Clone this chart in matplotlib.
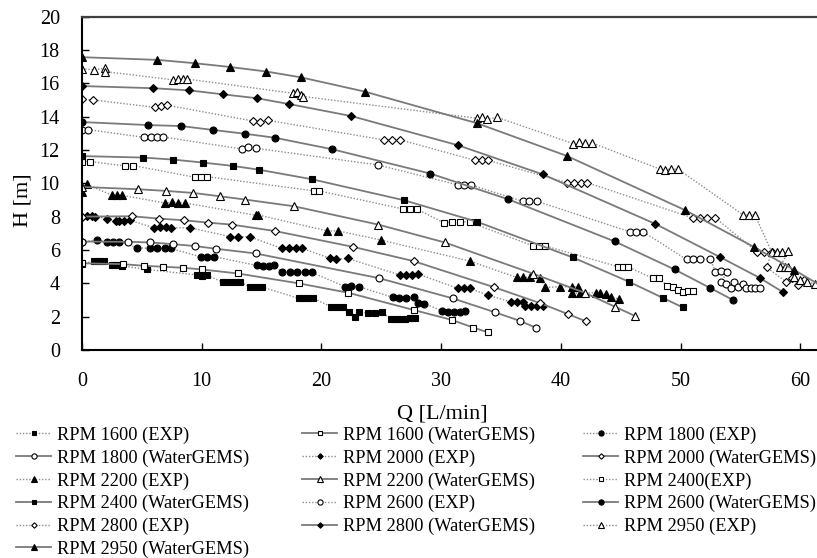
import matplotlib.pyplot as plt
from matplotlib.lines import Line2D

# pump head curves: measured points (EXP) and WaterGEMS model points
q_1600_exp = [0, 1.0, 1.4, 1.8, 2.5, 2.9, 3.3, 5.4, 9.6, 10.0, 10.4, 11.8, 12.3, 12.8, 13.2, 14.0, 14.5, 15.0,
              18.1, 18.5, 18.9, 19.3, 20.8, 21.3, 21.8, 22.3, 22.8, 23.1, 23.9, 24.5, 25.1, 25.8, 26.2, 26.6,
              27.0, 27.4, 27.8]
h_1600_exp = [5.15, 5.35, 5.35, 5.35, 5.1, 5.1, 5.05, 4.83, 4.5, 4.45, 4.5, 4.05, 4.05, 4.05, 4.1, 3.78, 3.75, 3.78,
              3.1, 3.1, 3.1, 3.1, 2.6, 2.6, 2.55, 2.3, 2.0, 2.3, 2.2, 2.2, 2.25, 1.84, 1.84, 1.86,
              1.88, 1.9, 1.92]
q_1600_wg = [0, 3.4, 5.15, 6.8, 8.45, 10.0, 13.0, 18.15, 22.25, 27.7, 30.9, 32.7, 33.9]
h_1600_wg = [5.2, 5.15, 5.05, 4.99, 4.93, 4.83, 4.59, 3.99, 3.43, 2.4, 1.8, 1.34, 1.06]

q_1800_exp = [0, 1.25, 2.1, 2.6, 3.1, 4.6, 5.7, 6.3, 6.9, 7.4, 9.9, 10.4, 11.0, 14.6, 15.1, 15.6, 16.0,
              16.7, 17.4, 18.0, 18.6, 19.2, 22.0, 22.5, 23.1, 26.0, 26.5, 27.1, 27.7, 28.1, 28.6,
              30.1, 30.6, 31.1, 31.6, 32.0]
h_1800_exp = [6.5, 6.59, 6.49, 6.49, 6.49, 6.13, 6.09, 6.09, 6.09, 6.09, 5.59, 5.6, 5.6, 5.07, 5.05, 5.05, 5.07,
              4.67, 4.65, 4.65, 4.67, 4.65, 3.79, 3.82, 3.8, 3.15, 3.12, 3.12, 3.15, 2.8, 2.78,
              2.35, 2.25, 2.3, 2.25, 2.35]
q_1800_wg = [0, 3.85, 5.7, 7.6, 9.47, 11.2, 14.5, 24.8, 31.0, 34.5, 36.6, 37.9]
h_1800_wg = [6.5, 6.49, 6.45, 6.35, 6.23, 6.07, 5.79, 4.31, 3.09, 2.26, 1.74, 1.34]

q_2000_exp = [0, 0.4, 0.8, 1.1, 2.1, 2.8, 3.1, 3.5, 4.0, 6.0, 6.5, 7.0, 7.4, 9.05, 12.4, 13.0, 14.0,
              16.7, 17.3, 17.9, 18.4, 20.7, 21.2, 22.2, 26.6, 27.1, 27.6, 28.1, 31.4, 31.9, 32.4, 33.9,
              35.8, 36.3, 36.8, 37.0, 37.5, 38.0, 38.5]
h_2000_exp = [8.0, 8.02, 8.02, 8.0, 7.88, 7.74, 7.72, 7.74, 7.78, 7.33, 7.35, 7.35, 7.33, 7.33, 6.79, 6.8, 6.79,
              6.09, 6.1, 6.1, 6.09, 5.5, 5.45, 5.49, 4.49, 4.5, 4.49, 4.55, 3.69, 3.7, 3.69, 3.29,
              2.89, 2.9, 2.89, 2.63, 2.65, 2.63, 2.65]
q_2000_wg = [0, 4.2, 6.4, 8.5, 10.5, 12.5, 16.15, 22.6, 27.7, 34.4, 38.3, 40.6, 42.1]
h_2000_wg = [8.0, 8.02, 7.88, 7.78, 7.64, 7.52, 7.13, 6.19, 5.33, 3.77, 2.8, 2.15, 1.72]

q_2200_exp = [0, 0.4, 2.5, 2.9, 3.3, 6.9, 7.5, 8.0, 8.6, 14.5, 14.7, 20.5, 21.4, 25.0, 32.4,
              36.3, 36.8, 37.4, 38.3, 38.7, 39.9, 40.9, 41.4, 40.9, 41.6, 42.9, 43.3, 43.8, 44.2, 44.9]
h_2200_exp = [9.48, 9.94, 9.28, 9.3, 9.28, 8.82, 8.85, 8.82, 8.82, 8.08, 8.1, 7.14, 7.14, 6.59, 5.33,
              4.35, 4.37, 4.35, 4.29, 3.75, 3.79, 3.79, 3.79, 3.41, 3.41, 3.43, 3.43, 3.35, 3.17, 3.05]
q_2200_wg = [0, 4.68, 7.05, 9.27, 11.5, 13.65, 17.7, 24.75, 30.3, 37.7, 42.0, 44.5, 46.2]
h_2200_wg = [9.78, 9.64, 9.54, 9.42, 9.22, 9.02, 8.62, 7.52, 6.45, 4.57, 3.43, 2.6, 2.04]

q_2400_exp = [0, 0.7, 3.6, 4.3, 9.4, 9.9, 10.4, 19.4, 19.8, 26.8, 27.4, 28.0, 30.2, 30.9, 31.6, 32.4,
              37.7, 38.2, 38.7, 44.8, 45.2, 45.6, 47.7, 48.2, 48.9, 49.4, 49.8, 50.2, 50.6, 51.0]
h_2400_exp = [11.3, 11.3, 11.04, 11.06, 10.36, 10.38, 10.4, 9.54, 9.54, 8.46, 8.46, 8.44, 7.64, 7.68, 7.7, 7.66,
              6.24, 6.26, 6.24, 4.99, 5.0, 4.99, 4.29, 4.29, 3.85, 3.8, 3.6, 3.5, 3.55, 3.52]
q_2400_wg = [0, 5.1, 7.6, 10.1, 12.6, 14.8, 19.2, 26.9, 33.0, 41.0, 45.7, 48.5, 50.2]
h_2400_wg = [11.63, 11.54, 11.42, 11.24, 11.04, 10.81, 10.24, 8.98, 7.69, 5.55, 4.09, 3.13, 2.55]

q_2600_exp = [0, 0.5, 5.2, 5.8, 6.3, 6.8, 13.4, 13.9, 14.5, 24.7, 31.4, 31.9, 32.5, 36.8, 37.3, 38.0,
              45.8, 46.3, 46.9, 50.5, 51.0, 51.6, 52.5, 52.9, 53.4, 53.9,
              53.4, 53.8, 54.2, 54.5, 54.8, 55.2, 55.5, 55.9, 56.2, 56.6]
h_2600_exp = [13.2, 13.22, 12.75, 12.77, 12.8, 12.77, 12.05, 12.15, 12.1, 11.1, 9.9, 9.92, 9.9, 8.92, 8.95, 8.92,
              7.08, 7.09, 7.08, 5.43, 5.43, 5.45, 5.45, 4.69, 4.72, 4.69,
              4.09, 3.93, 3.73, 4.09, 3.79, 3.93, 3.69, 3.73, 3.73, 3.73]
q_2600_wg = [0, 5.5, 8.3, 10.9, 13.6, 16.1, 20.9, 29.1, 35.6, 44.5, 49.5, 52.5, 54.4]
h_2600_wg = [13.67, 13.49, 13.43, 13.2, 12.97, 12.73, 12.04, 10.58, 9.04, 6.51, 4.83, 3.71, 2.99]

q_2800_exp = [0, 0.9, 6.1, 6.6, 7.1, 14.3, 14.9, 15.5, 25.2, 25.9, 26.6, 32.8, 33.4, 33.9,
              40.5, 41.1, 41.7, 42.2, 51.0, 51.6, 52.2, 52.9, 56.4, 57.0, 57.6, 57.2, 58.8, 59.3, 59.8, 60.3]
h_2800_exp = [15.03, 15.0, 14.55, 14.62, 14.68, 13.73, 13.7, 13.78, 12.6, 12.58, 12.6, 11.38, 11.4, 11.38,
              10.04, 10.02, 10.04, 10.04, 7.92, 7.92, 7.9, 7.92, 5.89, 5.87, 5.89, 4.95, 4.1, 4.3, 3.9, 4.2]
q_2800_wg = [0, 5.96, 8.96, 11.8, 14.6, 17.3, 22.5, 31.4, 38.5, 47.9, 53.3, 56.6, 58.6]
h_2800_wg = [15.83, 15.7, 15.57, 15.33, 15.1, 14.75, 14.03, 12.28, 10.53, 7.56, 5.57, 4.33, 3.45]

q_2950_exp = [0, 1.0, 1.9, 1.9, 7.6, 8.0, 8.4, 8.8, 17.6, 18.0, 18.3, 18.5, 33.0, 33.4, 33.8, 34.7,
              41.0, 41.5, 42.0, 42.6, 48.3, 48.7, 49.2, 49.8, 55.2, 55.7, 56.2, 57.6, 58.1, 58.5, 59.0,
              58.3, 58.7, 59.0, 59.5, 60.0, 60.6, 61.2]
h_2950_exp = [16.87, 16.8, 16.9, 16.7, 16.2, 16.25, 16.25, 16.25, 15.4, 15.45, 15.3, 15.2, 13.9, 13.95, 13.85, 13.95,
              12.38, 12.45, 12.42, 12.42, 10.84, 10.8, 10.86, 10.84, 8.12, 8.1, 8.12, 5.89, 5.9, 5.89, 5.92,
              4.97, 4.97, 4.95, 4.4, 4.2, 4.1, 3.95]
q_2950_wg = [0, 6.3, 9.4, 12.4, 15.4, 18.3, 23.6, 33.0, 40.5, 50.4, 56.1, 59.5, 62.0]
h_2950_wg = [17.56, 17.4, 17.2, 16.97, 16.7, 16.35, 15.5, 13.6, 11.64, 8.38, 6.19, 4.8, 3.74]

# (label, Q, H, marker, filled, is_exp) in legend order
series = [
    ("RPM 1600 (EXP)", q_1600_exp, h_1600_exp, "s", True, True),
    ("RPM 1600 (WaterGEMS)", q_1600_wg, h_1600_wg, "s", False, False),
    ("RPM 1800 (EXP)", q_1800_exp, h_1800_exp, "o", True, True),
    ("RPM 1800 (WaterGEMS)", q_1800_wg, h_1800_wg, "o", False, False),
    ("RPM 2000 (EXP)", q_2000_exp, h_2000_exp, "D", True, True),
    ("RPM 2000 (WaterGEMS)", q_2000_wg, h_2000_wg, "D", False, False),
    ("RPM 2200 (EXP)", q_2200_exp, h_2200_exp, "^", True, True),
    ("RPM 2200 (WaterGEMS)", q_2200_wg, h_2200_wg, "^", False, False),
    ("RPM 2400(EXP)", q_2400_exp, h_2400_exp, "s", False, True),
    ("RPM 2400 (WaterGEMS)", q_2400_wg, h_2400_wg, "s", True, False),
    ("RPM 2600 (EXP)", q_2600_exp, h_2600_exp, "o", False, True),
    ("RPM 2600 (WaterGEMS)", q_2600_wg, h_2600_wg, "o", True, False),
    ("RPM 2800 (EXP)", q_2800_exp, h_2800_exp, "D", False, True),
    ("RPM 2800 (WaterGEMS)", q_2800_wg, h_2800_wg, "D", True, False),
    ("RPM 2950 (EXP)", q_2950_exp, h_2950_exp, "^", False, True),
    ("RPM 2950 (WaterGEMS)", q_2950_wg, h_2950_wg, "^", True, False),
]

marker_size = {"s": 4.3, "o": 5.0, "D": 3.7, "^": 5.6}
LINE_GREY = "#7a7a7a"
DOT_GREY = "#8c8c8c"

plt.rcParams["font.family"] = ["Liberation Serif", "DejaVu Serif"]

fig = plt.figure(figsize=(8.17, 5.58), dpi=100)
ax = fig.add_axes([0.1004, 0.3728, 0.8996, 0.5976])


def style_for(marker, filled, is_exp, legend=False):
    ms = marker_size[marker] * (0.75 if legend else 1.0)
    kw = dict(marker=marker, markersize=ms, markeredgecolor="black",
              markerfacecolor="black" if filled else "white", markeredgewidth=0.8)
    if is_exp:
        kw.update(color=DOT_GREY, linestyle=(0, (1, 1.3)), linewidth=1.0)
    else:
        kw.update(color=LINE_GREY, linestyle="-", linewidth=1.3)
    return kw


handles = []
for label, q, h, marker, filled, is_exp in series:
    ax.plot(q, h, clip_on=True, **style_for(marker, filled, is_exp))
    handles.append(Line2D([], [], label=label, **style_for(marker, filled, is_exp, legend=True)))

ax.set_xlim(0, 61.4)
ax.set_ylim(0, 20)
ax.set_xticks(range(0, 61, 10))
ax.set_yticks(range(0, 21, 2))
ax.tick_params(direction="in", length=5, width=1.0, labelsize=14.5, pad=16)
ax.spines["left"].set_linewidth(1.5)
ax.spines["bottom"].set_linewidth(1.5)
ax.spines["top"].set_linewidth(1.6)
ax.spines["top"].set_color("#404040")
ax.spines["right"].set_visible(False)

ax.set_xlabel("Q [L/min]", fontsize=16)
ax.set_ylabel("H [m]", fontsize=16)
ax.xaxis.set_label_coords(0.49, -0.165)
ax.yaxis.set_label_coords(-0.068, 0.45)

# legend laid out row by row in three columns
col_x = [0.02, 0.370, 0.714]
for i, x0 in enumerate(col_x):
    fig.legend(handles=handles[i::3], loc="upper left", bbox_to_anchor=(x0, 0.2355),
               frameon=False, fontsize=13.2, handlelength=1.9, handletextpad=0.3,
               labelspacing=0.3, borderpad=0, borderaxespad=0)

fig.savefig("out.png", dpi=100)
